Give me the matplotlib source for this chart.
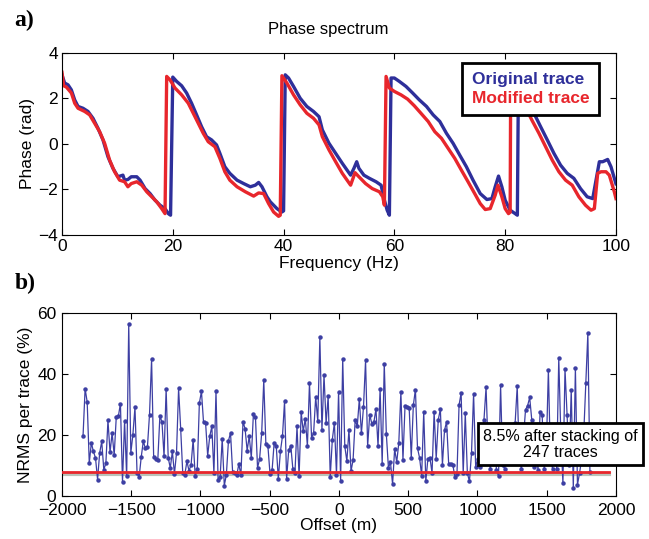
import numpy as np
import matplotlib
matplotlib.use('Agg')
import matplotlib.pyplot as plt

plt.rcParams['font.family'] = ['Liberation Sans', 'DejaVu Sans']

# panel a) phase spectra
freq_orig = [0, 0.48, 1.09, 1.69, 2.29, 2.9, 3.8, 4.7, 5.6, 6.5, 7.4, 8.3, 9.2, 10.1, 11.0, 11.3,
             11.9, 12.5, 13.5, 14.1, 15.0, 15.9, 16.8, 17.7, 18.6, 19.2, 19.6, 20.0, 20.7, 21.6,
             22.5, 23.4, 24.3, 25.2, 26.1, 27.0, 27.9, 28.5, 29.4, 30.3, 31.6, 32.8, 34.0, 34.9,
             35.5, 36.1, 37.0, 37.6, 38.2, 38.8, 39.7, 40.0, 40.3, 40.9, 41.8, 43.0, 44.2, 45.4,
             46.4, 47.0, 48.2, 49.4, 50.6, 52.1, 52.7, 53.2, 53.6, 54.5, 55.5, 56.7, 57.6, 58.2,
             58.7, 59.1, 59.4, 60.0, 60.9, 62.1, 63.3, 64.5, 65.8, 67.0, 68.2, 69.4, 70.6, 71.8,
             73.0, 74.2, 75.5, 76.7, 77.6, 78.2, 78.8, 79.4, 80.0, 80.9, 81.8, 82.2, 82.4, 83.0,
             83.6, 84.2, 85.2, 86.4, 87.6, 88.8, 90.0, 91.2, 92.4, 93.6, 94.8, 95.8, 96.4, 97.0,
             97.6, 98.5, 99.1, 100.0]
phase_orig = [3.04, 2.68, 2.6, 2.38, 1.94, 1.65, 1.57, 1.43, 1.13, 0.69, 0.18, -0.56, -1.07, -1.44,
              -1.37, -1.59, -1.56, -1.44, -1.44, -1.59, -1.96, -2.18, -2.47, -2.69, -2.84, -3.06,
              -3.13, 2.94, 2.75, 2.56, 2.24, 1.79, 1.28, 0.76, 0.32, 0.18, -0.04, -0.41, -1.0,
              -1.29, -1.59, -1.74, -1.88, -1.81, -1.69, -1.88, -2.32, -2.54, -2.69, -2.84, -2.99,
              -2.94, 3.04, 2.9, 2.53, 2.01, 1.65, 1.43, 1.2, 0.62, 0.03, -0.41, -0.85, -1.37,
              -1.07, -0.78, -1.07, -1.37, -1.51, -1.66, -1.81, -2.47, -2.91, -3.13, 2.9, 2.9,
              2.75, 2.53, 2.24, 1.94, 1.65, 1.28, 0.99, 0.47, 0.03, -0.49, -1.0, -1.59, -2.18,
              -2.44, -2.4, -1.88, -1.41, -1.88, -2.47, -2.91, -3.06, -3.13, 3.0, 2.75, 2.3, 1.79,
              1.35, 0.76, 0.18, -0.41, -0.93, -1.29, -1.51, -1.96, -2.32, -2.4, -1.59, -0.78,
              -0.78, -0.68, -1.0, -1.75]

freq_mod = [0, 0.3, 0.8, 1.7, 2.3, 2.9, 4.1, 5.0, 5.9, 6.8, 7.7, 8.6, 9.5, 10.4, 11.3, 11.9, 12.5,
            13.5, 14.4, 15.3, 16.2, 17.1, 18.0, 18.6, 18.9, 19.5, 20.4, 21.6, 22.8, 23.7, 24.6,
            25.5, 26.4, 27.6, 28.5, 29.4, 30.3, 31.6, 33.1, 34.6, 35.5, 36.4, 37.3, 38.2, 39.1,
            39.4, 39.7, 40.6, 41.8, 43.0, 44.2, 45.4, 46.4, 47.0, 48.2, 49.4, 50.6, 52.1, 52.9,
            53.6, 54.8, 56.0, 57.3, 57.9, 58.2, 58.5, 59.1, 60.0, 61.2, 62.4, 63.6, 64.8, 66.1,
            67.3, 68.5, 69.7, 70.9, 72.1, 73.3, 74.5, 75.5, 76.4, 77.3, 78.2, 78.7, 79.4, 80.0,
            80.6, 80.9, 81.0, 81.8, 82.7, 83.6, 84.8, 86.1, 87.3, 88.5, 89.7, 90.9, 92.1, 93.3,
            94.5, 95.5, 96.1, 96.7, 97.3, 98.2, 98.8, 99.7, 100.0]
phase_mod = [3.15, 2.56, 2.5, 2.24, 1.79, 1.57, 1.43, 1.28, 0.91, 0.54, 0.03, -0.71, -1.22, -1.59,
             -1.66, -1.88, -1.74, -1.66, -1.81, -2.1, -2.32, -2.54, -2.84, -3.06, 2.97, 2.82,
             2.46, 2.16, 1.79, 1.35, 0.91, 0.47, 0.1, -0.12, -0.63, -1.22, -1.59, -1.88, -2.1,
             -2.29, -2.15, -2.18, -2.62, -2.99, -3.18, -3.13, 3.0, 2.68, 2.16, 1.72, 1.35, 1.13,
             0.84, 0.32, -0.26, -0.78, -1.29, -1.81, -1.26, -1.44, -1.74, -1.96, -2.1, -2.32,
             -2.69, 2.97, 2.46, 2.31, 2.16, 1.97, 1.68, 1.35, 0.99, 0.54, 0.25, -0.19, -0.63,
             -1.15, -1.66, -2.18, -2.62, -2.88, -2.84, -2.25, -1.81, -2.32, -2.84, -3.06, -3.0,
             3.0, 2.7, 2.2, 1.65, 1.06, 0.47, -0.12, -0.71, -1.22, -1.59, -1.81, -2.32, -2.69,
             -2.91, -2.84, -1.29, -1.22, -1.22, -1.37, -2.1, -2.4]

# panel b) NRMS per trace
nrms = [19.6, 35.2, 30.8, 10.8, 17.4, 14.6, 12.5, 5.4, 14.1, 17.9,
        8.6, 10.8, 24.8, 14.3, 20.7, 13.4, 25.9, 26.1, 30.3, 4.5,
        24.7, 6.4, 56.4, 14.1, 20.1, 29.1, 7.6, 6.1, 12.7, 17.9,
        15.7, 16.1, 26.7, 44.9, 12.7, 12.2, 11.9, 26.3, 24.2, 13.0,
        35.1, 12.5, 9.2, 14.6, 7.3, 14.1, 35.3, 22.1, 7.5, 7.0,
        11.4, 8.3, 10.1, 18.5, 6.4, 9.0, 30.5, 34.3, 24.2, 23.9,
        13.2, 19.6, 22.8, 7.5, 34.3, 5.4, 6.3, 18.7, 3.4, 7.0,
        18.1, 20.7, 7.9, 7.5, 6.8, 10.5, 6.8, 24.3, 22.1, 14.9,
        19.6, 12.5, 26.8, 25.8, 9.2, 12.2, 20.7, 37.9, 17.1, 16.3,
        7.3, 8.4, 17.4, 16.5, 5.6, 14.6, 19.6, 31.0, 5.7, 15.0,
        16.5, 8.9, 7.5, 22.8, 6.4, 27.5, 21.2, 25.4, 16.3, 37.0,
        19.1, 20.7, 32.5, 24.5, 52.1, 21.7, 39.6, 23.9, 32.7, 6.3,
        18.5, 24.0, 7.0, 34.0, 5.0, 45.0, 16.3, 11.4, 21.7, 8.1,
        11.9, 25.0, 22.8, 31.8, 20.5, 29.1, 44.5, 16.3, 26.7, 23.7,
        24.2, 28.5, 16.3, 35.1, 10.5, 43.4, 20.3, 9.3, 11.0, 3.9,
        15.4, 11.1, 17.4, 34.1, 11.9, 29.6, 29.3, 28.8, 12.5, 29.8,
        34.9, 15.7, 12.5, 6.7, 27.6, 4.8, 12.2, 12.5, 7.5, 27.6,
        12.2, 25.0, 28.5, 10.3, 21.5, 24.4, 10.6, 10.5, 10.3, 6.2,
        7.2, 29.8, 33.8, 7.5, 27.1, 7.5, 4.8, 14.1, 33.6, 9.6,
        12.0, 9.5, 18.0, 25.0, 35.7, 15.0, 9.0, 13.0, 20.0, 8.5,
        6.5, 36.3, 10.0, 9.0, 15.0, 20.0, 12.0, 17.0, 24.0, 36.0,
        12.0, 9.0, 19.0, 28.3, 29.6, 32.3, 25.0, 9.5, 17.0, 8.5,
        27.5, 26.6, 9.0, 15.0, 41.4, 12.0, 9.0, 18.0, 9.0, 45.2,
        20.0, 4.3, 41.6, 26.6, 10.0, 34.9, 2.6, 42.0, 3.7, 7.5,
        12.0, 20.0, 37.0, 53.4, 7.8]
offset_first, offset_last = -1848, 1812
offsets = np.linspace(offset_first, offset_last, len(nrms))
stacked_nrms = 7.8

blue = '#2e2f9a'
red = '#e8262c'

fig = plt.figure(figsize=(6.49, 5.39), dpi=100)
ax1 = fig.add_axes([0.0955, 0.564, 0.8536, 0.3377])
ax2 = fig.add_axes([0.0955, 0.0798, 0.8536, 0.3395])

for ax in (ax1, ax2):
    ax.tick_params(direction='in', top=True, right=True, labelsize=12.5, length=4, pad=3)
    for s in ax.spines.values():
        s.set_linewidth(0.8)
ax2.tick_params(axis='x', pad=5)
ax2.tick_params(axis='y', pad=4)

ax1.plot(freq_orig, phase_orig, color=blue, lw=2.4, label='Original trace')
ax1.plot(freq_mod, phase_mod, color=red, lw=2.4, label='Modified trace')
ax1.set_xlim(0, 100)
ax1.set_ylim(-4, 4)
ax1.set_xticks(range(0, 101, 20))
ax1.set_yticks(range(-4, 5, 2))
ax1.set_title('Phase spectrum', fontsize=12, pad=14, x=0.48)
ax1.set_xlabel('Frequency (Hz)', fontsize=12.5, labelpad=1)
ax1.set_ylabel('Phase (rad)', fontsize=12.5, labelpad=2)
leg = ax1.legend(loc='upper right', handlelength=0, handletextpad=0, fancybox=False,
                 edgecolor='black', framealpha=1, borderpad=0.55, labelspacing=0.2,
                 prop={'weight': 'bold', 'size': 12.5}, bbox_to_anchor=(0.985, 0.995))
leg.get_frame().set_linewidth(2)
for h in leg.legend_handles:
    h.set_visible(False)
for t, c in zip(leg.get_texts(), [blue, red]):
    t.set_color(c)

ax2.plot([-2000, 1950], [stacked_nrms - 0.7] * 2, color='#b9c3b9', lw=3, zorder=2)
ax2.plot(offsets, nrms, color='#3d3fa3', lw=0.9, marker='o', ms=2.2, zorder=3)
ax2.plot([-2000, 1950], [stacked_nrms] * 2, color=red, lw=2, zorder=4)
ax2.set_xlim(-2000, 2000)
ax2.set_ylim(0, 60)
ax2.set_xticks(range(-2000, 2001, 500))
ax2.set_yticks(range(0, 61, 20))
ax2.set_xlabel('Offset (m)', fontsize=12.5, labelpad=0)
ax2.set_ylabel('NRMS per trace (%)', fontsize=12.5, labelpad=3)
ax2.text(1600, 17, '8.5% after stacking of\n247 traces', ha='center', va='center',
         fontsize=11.5, linespacing=1.1, zorder=5, clip_on=False,
         bbox=dict(boxstyle='square,pad=0.35', fc='white', ec='black', lw=2))

fig.text(0.022, 0.952, 'a)', fontsize=17, fontweight='bold', family='Liberation Serif')
fig.text(0.022, 0.463, 'b)', fontsize=17, fontweight='bold', family='Liberation Serif')

fig.savefig('out.png', dpi=100)
